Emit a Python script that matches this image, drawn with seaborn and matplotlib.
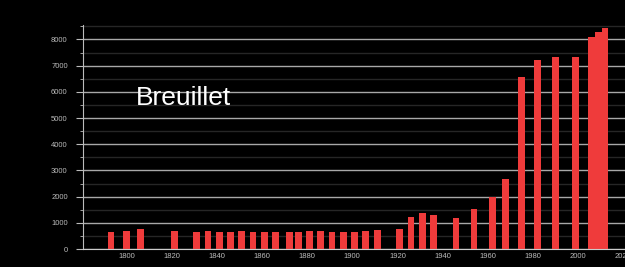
import matplotlib
matplotlib.use("Agg")
import matplotlib.pyplot as plt
import seaborn as sns
import pandas as pd
from matplotlib.ticker import MultipleLocator

years = [1793, 1800, 1806, 1821, 1831, 1836, 1841, 1846, 1851, 1856, 1861,
         1866, 1872, 1876, 1881, 1886, 1891, 1896, 1901, 1906, 1911, 1921,
         1926, 1931, 1936, 1946, 1954, 1962, 1968, 1975, 1982, 1990, 1999,
         2006, 2009, 2012]
population = [637, 687, 775, 687, 637, 687, 637, 662, 687, 637, 637,
              637, 637, 637, 687, 687, 637, 637, 660, 687, 725, 763,
              1210, 1362, 1298, 1195, 1515, 1996, 2670, 6553, 7210, 7340, 7340,
              8080, 8270, 8420]
x_ticks = list(range(1800, 2021, 20))
title = "Breuillet"

plt.rcParams['font.family'] = ['Liberation Sans', 'DejaVu Sans']

df = pd.DataFrame({"year": years, "pop": population})

fig = plt.figure(figsize=(6.25, 2.67), dpi=100, facecolor='black')
ax = fig.add_axes([83 / 625, 18 / 267, (625 - 83) / 625, 224 / 267])
ax.set_facecolor('black')
ax.set_axisbelow(True)

sns.barplot(data=df, x="year", y="pop", native_scale=True, width=1.0,
            color='#ef3b3b', saturation=1, errorbar=None, ax=ax,
            linewidth=0)

ax.set_xlim(1780.6, 2020.9)
ax.set_ylim(0, 8550)
ax.yaxis.set_major_locator(MultipleLocator(1000))
ax.yaxis.set_minor_locator(MultipleLocator(500))
ax.set_xticks(x_ticks)
ax.set_xticklabels([str(t) for t in x_ticks])

ax.grid(which='major', axis='y', color='#a8a8a8', lw=1)
ax.grid(which='minor', axis='y', color='#262626', lw=1)
ax.grid(which='both', axis='x', visible=False)

for s in ['top', 'right']:
    ax.spines[s].set_visible(False)
ax.spines['left'].set_color('#bbbbbb')
ax.spines['bottom'].set_color('#cccccc')

ax.tick_params(axis='y', which='major', length=5, color='#bbbbbb',
               labelsize=5.5, labelcolor='#bbbbbb', pad=6)
ax.tick_params(axis='y', which='minor', length=2, color='#bbbbbb')
ax.tick_params(axis='x', which='both', length=0, labelsize=5.5,
               labelcolor='#bbbbbb', pad=3)
ax.set_xlabel("")
ax.set_ylabel("")

fig.text(136 / 625, 1 - 105 / 267, title, fontsize=19, color='white',
         va='baseline', ha='left')

fig.savefig("out.png", dpi=100, facecolor='black')
